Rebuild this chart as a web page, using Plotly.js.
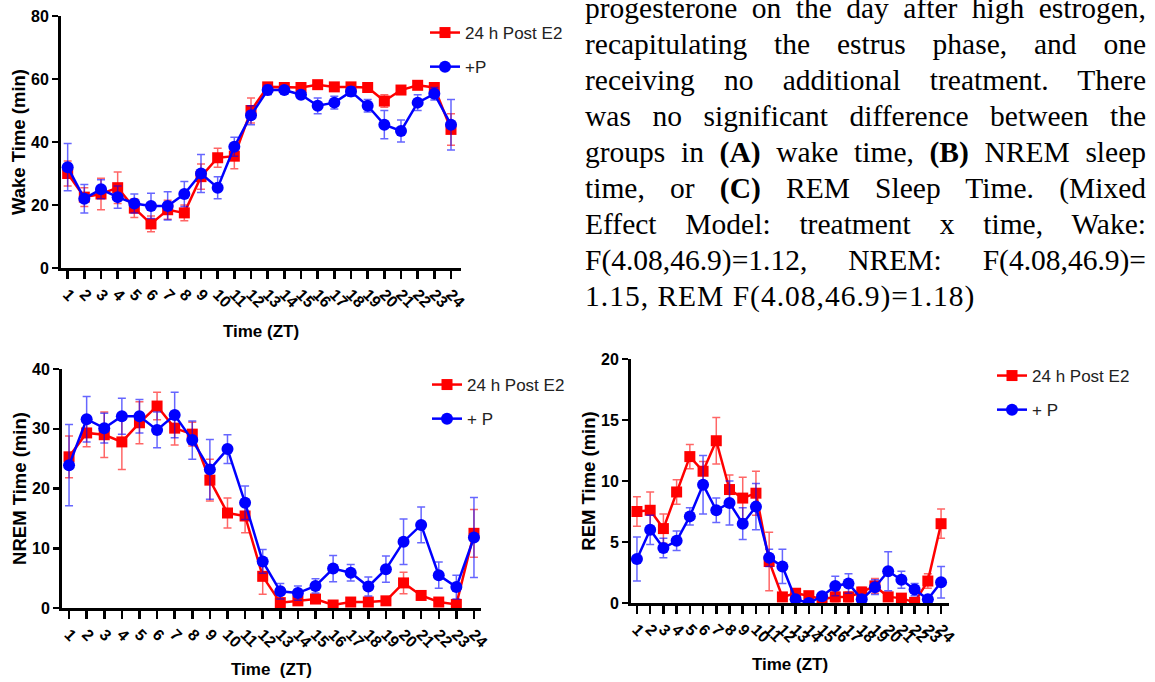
<!DOCTYPE html>
<html>
<head>
<meta charset="utf-8">
<script src="https://cdn.plot.ly/plotly-3.0.1.min.js"></script>
<style>
  html, body { margin: 0; padding: 0; background: #fff; overflow: hidden; }
  #wrap { position: relative; width: 1155px; height: 682px; overflow: hidden; }
  #chart { position: absolute; left: 0; top: 0; width: 1155px; height: 682px; }
  #caption {
    position: absolute; left: 585px; top: -10px; width: 561px;
    font-family: "Liberation Serif", "Times New Roman", serif;
    font-size: 29.5px; line-height: 36px; color: #000;
  }
  #caption .ln { white-space: nowrap; text-align: justify; text-align-last: justify; height: 36px; }
  #caption .ln.last { text-align-last: left; letter-spacing: 1px; }
</style>
</head>
<body>
<div id="wrap">
  <div id="chart"></div>
  <div id="caption">
    <div class="ln">progesterone on the day after high estrogen,</div>
    <div class="ln">recapitulating the estrus phase, and one</div>
    <div class="ln">receiving no additional treatment. There</div>
    <div class="ln">was no significant difference between the</div>
    <div class="ln">groups in <b>(A)</b> wake time, <b>(B)</b> NREM sleep</div>
    <div class="ln">time, or <b>(C)</b> REM Sleep Time. (Mixed</div>
    <div class="ln">Effect Model: treatment x time, Wake:</div>
    <div class="ln">F(4.08,46.9)=1.12, NREM: F(4.08,46.9)=</div>
    <div class="ln last">1.15, REM F(4.08,46.9)=1.18)</div>
  </div>
</div>
<script>
// ---- data ----
const zt = [1,2,3,4,5,6,7,8,9,10,11,12,13,14,15,16,17,18,19,20,21,22,23,24];
const ztLabels = ['1','2','3','4','5','6','7','8','9','10','11','12','13','14','15','16','17','18','19','20','21','22','23','24'];

const wakeE2    = [30,22.5,23.5,25.5,19,14,18.5,17.5,29,35,35.5,50,57.5,57.3,57.3,58.2,57.5,57.5,57.3,53,56.5,58,57.3,44];
const wakeE2Err = [4,3,5,5,3,2.5,3,2.5,4,3,4,4,1,1,1,1,1,1,1,2,1,1,1,5];
const wakeP     = [32,22,25,22.5,20.5,19.7,19.7,23.5,30,25.5,38.5,48.5,56.5,56.5,55,51.5,52.5,56,51.5,45.5,43.5,52.5,55.3,45.5];
const wakePErr  = [7.5,4.5,3,3.5,3,4,4.5,4,6,3.5,3,3,1.5,1,1,2.5,2,1.5,2,4.5,3.5,2.5,2,8];

const nremE2    = [25.3,29.3,29,27.8,31,33.8,30.1,29.1,21.4,15.9,15.4,5.3,0.9,1.2,1.5,0.5,1,1,1.2,4.2,2.1,1,0.6,12.5];
const nremE2Err = [3.5,2.3,3.8,4.6,3.5,2.3,2.8,2,3.5,2.5,2.8,3,0.5,0.5,0.5,0.3,0.5,0.5,0.5,1.8,0.7,0.5,0.5,4];
const nremP     = [23.9,31.6,30.1,32.1,32.1,29.8,32.3,28.1,23.2,26.6,17.6,7.8,2.8,2.5,3.7,6.6,5.9,3.6,6.5,11.1,13.9,5.5,3.5,11.8];
const nremPErr  = [6.8,3.8,2.5,3,2.8,3,3.8,3.2,5,2.4,2.8,2,1.3,1.2,1.2,2.2,1.4,1.6,2.2,3.8,3,2.2,2,6.7];

const remE2     = [7.5,7.6,6.1,9.1,12.0,10.8,13.3,9.3,8.6,9.0,3.4,0.5,0.8,0.6,0.3,0.5,0.5,0.9,1.4,0.5,0.4,0.05,1.8,6.5];
const remE2Err  = [1.2,1.5,1.2,1,1,0.8,1.9,1.2,1.7,1.8,2.4,0.2,0.2,0.3,0.2,0.4,0.4,0.4,0.6,0.3,0.3,0.1,0.6,1.2];
const remP      = [3.6,6.0,4.5,5.1,7.1,9.7,7.6,8.2,6.5,7.9,3.7,3.0,0.3,0.0,0.55,1.4,1.6,0.3,1.3,2.6,1.9,1.1,0.3,1.7];
const remPErr   = [1.8,1.2,0.8,0.8,0.7,2.4,1.0,1.8,1.3,1.9,0.7,1.4,0.2,0.1,0.3,0.8,0.8,0.2,0.6,1.6,0.7,0.5,0.2,1.3];

const seriesNames = {
  A: ['24 h Post E2', '+P'],
  B: ['24 h Post E2', '+ P'],
  C: ['24 h Post E2', '+ P']
};
const yTitles = ['Wake Time (min)', 'NREM Time (min)', 'REM Time (min)'];
const xTitles = ['Time (ZT)', 'Time\u00a0\u00a0(ZT)', 'Time (ZT)'];

// ---- styles ----
const RED = '#ff0000', BLUE = '#0000ff';
const W = 1155, H = 682;
const FONT = 'Liberation Sans, Arial, sans-serif';

function pair(xa, ya, leg, names, e2, e2err, p, perr) {
  return [
    { x: zt, y: e2, name: names[0], xaxis: xa, yaxis: ya, legend: leg, legendgroup: leg + 'a',
      type: 'scatter', mode: 'lines+markers',
      line: { color: RED, width: 2.5 },
      marker: { symbol: 'square', size: 11, color: RED },
      error_y: { type: 'data', array: e2err, visible: true, color: 'rgba(255,0,0,0.6)', thickness: 1.5, width: 4 } },
    { x: zt, y: p, name: names[1], xaxis: xa, yaxis: ya, legend: leg, legendgroup: leg + 'b',
      type: 'scatter', mode: 'lines+markers',
      line: { color: BLUE, width: 2.5 },
      marker: { symbol: 'circle', size: 12, color: BLUE },
      error_y: { type: 'data', array: perr, visible: true, color: 'rgba(0,0,255,0.6)', thickness: 1.5, width: 4 } }
  ];
}

const data = [].concat(
  pair('x', 'y', 'legend', seriesNames.A, wakeE2, wakeE2Err, wakeP, wakePErr),
  pair('x2', 'y2', 'legend2', seriesNames.B, nremE2, nremE2Err, nremP, nremPErr),
  pair('x3', 'y3', 'legend3', seriesNames.C, remE2, remE2Err, remP, remPErr)
);

function xAxis(px0, px1, range, anchor, title, standoff) {
  return {
    domain: [px0 / W, px1 / W], range: range, anchor: anchor,
    tickmode: 'array', tickvals: zt, ticktext: ztLabels, tickangle: 45,
    ticks: 'outside', ticklen: 8, tickwidth: 2.5, tickcolor: '#000',
    showline: true, linewidth: 3, linecolor: '#000',
    showgrid: false, zeroline: false, fixedrange: true,
    tickfont: { family: FONT, size: 16, color: '#000', weight: 'bold' },
    title: { text: title, standoff: standoff, font: { family: FONT, size: 17, color: '#000', weight: 'bold' } }
  };
}
function yAxis(py0, py1, range, dtick, anchor, title, standoff) {
  return {
    domain: [1 - py0 / H, 1 - py1 / H], range: range, anchor: anchor,
    dtick: dtick, tick0: 0,
    ticks: 'outside', ticklen: 6, tickwidth: 2.5, tickcolor: '#000',
    showline: true, linewidth: 3, linecolor: '#000',
    showgrid: false, zeroline: false, fixedrange: true,
    tickfont: { family: FONT, size: 16, color: '#000', weight: 'bold' },
    title: { text: title, standoff: standoff, font: { family: FONT, size: 18.5, color: '#000', weight: 'bold' } }
  };
}
function legendAt(px, py) {
  return {
    x: px / W, y: 1 - py / H, xanchor: 'left', yanchor: 'top',
    bgcolor: 'rgba(0,0,0,0)', borderwidth: 0, itemwidth: 30,
    tracegroupgap: 9, traceorder: 'grouped',
    font: { family: FONT, size: 17, color: '#222' }
  };
}

const layout = {
  width: W, height: H,
  margin: { l: 0, r: 0, t: 0, b: 0 },
  paper_bgcolor: '#fff', plot_bgcolor: 'rgba(0,0,0,0)',
  showlegend: true,
  xaxis:  xAxis(61, 461, [0.6, 24.6], 'y', xTitles[0], 16),
  yaxis:  yAxis(268, 16, [0, 80], 20, 'x', yTitles[0], 1),
  xaxis2: xAxis(62, 481, [0.6, 24.4], 'y2', xTitles[1], 14),
  yaxis2: yAxis(608, 369, [0, 40], 10, 'x2', yTitles[1], 1),
  xaxis3: xAxis(631, 949, [0.55, 24.6], 'y3', xTitles[2], 14),
  yaxis3: yAxis(603, 359, [0, 20], 5, 'x3', yTitles[2], 1),
  legend:  legendAt(425, 15),
  legend2: legendAt(427, 367),
  legend3: legendAt(992, 358)
};

Plotly.newPlot('chart', data, layout, { staticPlot: true, displayModeBar: false });
</script>
</body>
</html>
